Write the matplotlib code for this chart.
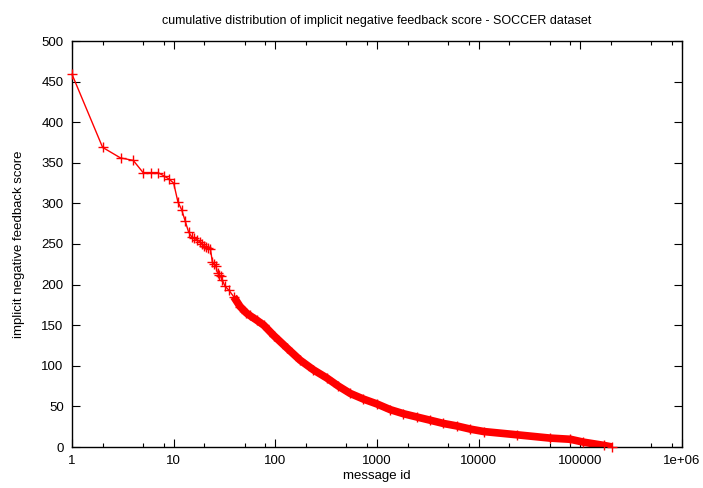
import matplotlib
matplotlib.use("Agg")
import matplotlib.pyplot as plt
import numpy as np

# values (message id -> score)
msg_id = [1, 2, 3, 4, 5, 6, 7, 8, 9, 10,
          11, 12, 13, 14, 15, 16, 17, 18, 19, 20,
          21, 22, 23, 24, 25, 26, 27, 28, 29, 30,
          32, 35, 39, 45, 52, 56, 66, 77, 97, 130,
          175, 237, 321, 417, 545, 736, 1000, 1350, 1820, 2460,
          3330, 4500, 6060, 8300, 11300, 24000, 50000, 80000, 107000, 170000,
          205000]
score = [459, 369, 356, 353, 338, 338, 338, 334, 330, 325,
         302, 292, 278, 265, 259, 257, 255, 253, 250, 248,
         246, 245, 244, 228, 225, 223, 214, 212, 210, 206,
         198, 193, 185, 173, 165, 162, 156, 150, 137, 122,
         107, 95, 85, 75, 66, 59, 53, 46, 41, 37,
         33, 29, 26, 22, 19, 15, 11, 9.5, 6, 2,
         0]

x_ticks = [1, 10, 100, 1000, 10000, 100000, 1000000]
x_tick_labels = ["1", "10", "100", "1000", "10000", "100000", "1e+06"]
y_ticks = list(range(0, 501, 50))

plt.rcParams["font.family"] = ["Liberation Sans", "DejaVu Sans"]

fig = plt.figure(figsize=(7.03, 4.88), dpi=100)
ax = fig.add_axes([72 / 703, 41 / 488, 610 / 703, 406 / 488])

x = np.array(msg_id, dtype=float)
y = np.array(score, dtype=float)

# dense part: thousands of "+" marks merge into a thick band
dense = x >= 39
ax.plot(x[dense], y[dense], color="#ff0000", lw=5.5, solid_capstyle="butt", zorder=2)
ax.plot(x, y, color="#ff0000", lw=1, marker="+", ms=7, mew=1, zorder=3,
        clip_on=False)

ax.set_xscale("log")
ax.set_xlim(1, 1e6)
ax.set_ylim(0, 500)
ax.set_xticks(x_ticks)
ax.set_xticklabels(x_tick_labels)
minors = [m * 10 ** d for d in range(6) for m in (2, 5, 8)]
ax.set_xticks(minors, minor=True)
ax.set_yticks(y_ticks)

ax.tick_params(which="both", direction="in", top=True, right=True,
               labelsize=9.5, colors="black", width=0.8)
ax.tick_params(which="major", length=6, pad=6)
ax.tick_params(which="minor", length=3)
for s in ax.spines.values():
    s.set_linewidth(1)

ax.set_xlabel("message id", fontsize=9.5, labelpad=2)
ax.set_ylabel("implicit negative feedback score", fontsize=9.5, labelpad=12)
ax.set_title("cumulative distribution of implicit negative feedback score - SOCCER dataset",
             fontsize=9, pad=12)

plt.savefig("out.png", dpi=100)
plt.close()
